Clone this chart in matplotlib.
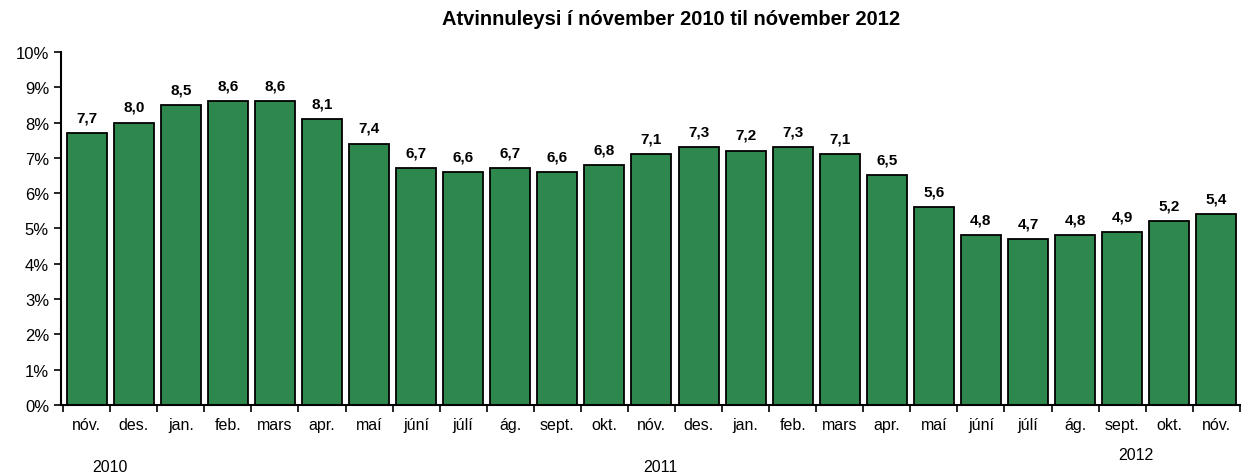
import numpy as np
import matplotlib
matplotlib.use("Agg")
import matplotlib.pyplot as plt
from matplotlib.ticker import FuncFormatter

plt.rcParams['font.family'] = ['Liberation Sans', 'DejaVu Sans']

# monthly unemployment rate (%)
months = ['nóv.', 'des.', 'jan.', 'feb.', 'mars', 'apr.', 'maí', 'júní', 'júlí',
          'ág.', 'sept.', 'okt.', 'nóv.', 'des.', 'jan.', 'feb.', 'mars', 'apr.',
          'maí', 'júní', 'júlí', 'ág.', 'sept.', 'okt.', 'nóv.']
rates = [7.7, 8.0, 8.5, 8.6, 8.6, 8.1, 7.4, 6.7, 6.6, 6.7, 6.6, 6.8, 7.1,
         7.3, 7.2, 7.3, 7.1, 6.5, 5.6, 4.8, 4.7, 4.8, 4.9, 5.2, 5.4]
years = ['2010', '2011', '2012']
year_pos = [0.5, 12.2, 22.3]
year_y = [-0.175, -0.175, -0.14]

fig = plt.figure(figsize=(12.41, 4.77), dpi=100)
ax = fig.add_axes([0.049, 0.149, 0.95, 0.74])

x = np.arange(len(rates))
ax.bar(x, rates, width=0.85, color='#2e874c', edgecolor='black', linewidth=1.3)

for xi, v in zip(x, rates):
    ax.text(xi, v + 0.25, f'{v:.1f}'.replace('.', ','), ha='center', va='bottom',
            fontsize=11, fontweight='bold')

ax.set_xlim(-0.55, len(rates) - 0.55)
ax.set_ylim(0, 10)
ax.set_yticks(np.arange(0, 11, 1))
ax.yaxis.set_major_formatter(FuncFormatter(lambda v, p: f'{int(v)}%'))

# month labels without ticks, ticks at category boundaries
ax.set_xticks(x)
ax.set_xticklabels(months, fontsize=11.5)
ax.tick_params(axis='x', which='major', length=0, pad=9)
ax.set_xticks(np.arange(-0.5, len(rates)), minor=True)
ax.tick_params(axis='x', which='minor', length=5, width=1.2, direction='out')
ax.tick_params(axis='y', length=5, width=1.2, direction='out', labelsize=12)

for s in ['top', 'right']:
    ax.spines[s].set_visible(False)
ax.spines['left'].set_linewidth(1.5)
ax.spines['bottom'].set_linewidth(1.5)

trans = ax.get_xaxis_transform()
for yr, xp, yp in zip(years, year_pos, year_y):
    ax.text(xp, yp, yr, transform=trans, ha='center', va='center', fontsize=11.5)

fig.text(0.541, 0.96, 'Atvinnuleysi í nóvember 2010 til nóvember 2012',
         ha='center', va='center', fontsize=14.5, fontweight='bold')

fig.savefig('out.png', dpi=100)
